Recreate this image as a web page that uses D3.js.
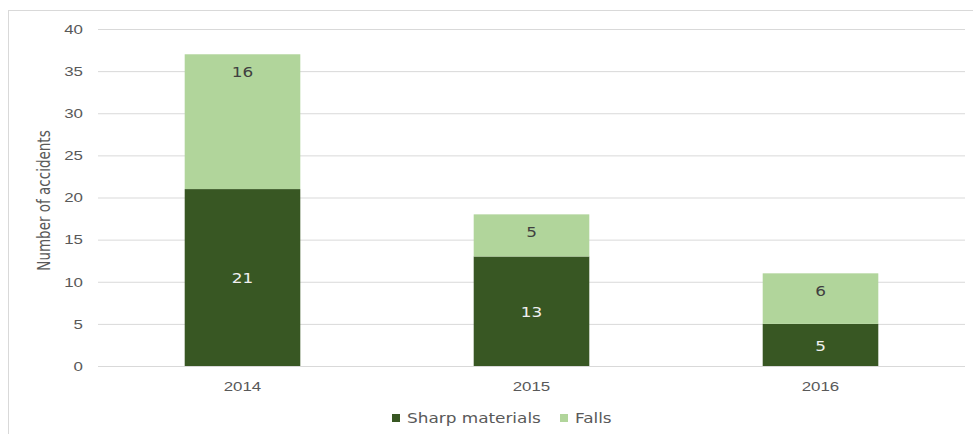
<!DOCTYPE html>
<html><head><meta charset="utf-8">
<script src="https://cdn.jsdelivr.net/npm/d3@7"></script>
<style>body{margin:0;background:#fff}svg{display:block;font-family:"DejaVu Sans",Verdana,sans-serif}</style>
</head><body><svg id="c" width="973" height="434"></svg>
<script>
const years = ["2014", "2015", "2016"];
const sharpMaterials = [21, 13, 5];
const falls = [16, 5, 6];
const seriesNames = ["Sharp materials", "Falls"];
const seriesColors = ["#385723", "#B1D59B"];
const yTicks = [0, 5, 10, 15, 20, 25, 30, 35, 40];

const SX = 1.25, FS = "13.5px", TXT = "#595959";
const svg = d3.select("#c");
svg.append("rect").attr("x", 8.5).attr("y", 10.5).attr("width", 980).attr("height", 440)
  .attr("fill", "none").attr("stroke", "#d9d9d9");

const m = {l: 98, r: 965, t: 29, b: 366};
const x = d3.scaleBand().domain(years).range([m.l, m.r]).paddingInner(0.6).paddingOuter(0.3);
const y = d3.scaleLinear().domain([0, 40]).range([m.b, m.t]);

const yAxis = svg.append("g").attr("transform", `translate(${m.l},0)`)
  .call(d3.axisLeft(y).tickValues(yTicks).tickSize(-(m.r - m.l)));
yAxis.select(".domain").remove();
yAxis.selectAll(".tick line").attr("stroke", "#d9d9d9").attr("stroke-width", 1);
yAxis.selectAll(".tick text").attr("x", 0).attr("fill", TXT).style("font-size", FS)
  .attr("transform", `translate(-15,0) scale(${SX},1)`);

const xAxis = svg.append("g").attr("transform", `translate(0,${m.b})`)
  .call(d3.axisBottom(x).tickSize(0));
xAxis.select(".domain").remove();
xAxis.selectAll(".tick text").attr("y", 0).attr("dy", "0.35em").attr("fill", TXT).style("font-size", FS)
  .attr("transform", `translate(0,20) scale(${SX},1)`);

const data = years.map((yr, i) => ({year: yr, "Sharp materials": sharpMaterials[i], "Falls": falls[i]}));
const stack = d3.stack().keys(seriesNames)(data);

stack.forEach((s, si) => {
  const g = svg.append("g");
  g.selectAll("rect").data(s).join("rect")
    .attr("x", d => x(d.data.year))
    .attr("width", x.bandwidth())
    .attr("y", d => y(d[1]))
    .attr("height", d => y(d[0]) - y(d[1]))
    .attr("fill", seriesColors[si]);
  g.selectAll("text").data(s).join("text")
    .attr("transform", d => {
      const cx = x(d.data.year) + x.bandwidth() / 2;
      const cy = si === 0 ? (y(d[0]) + y(d[1])) / 2 + 1 : y(d[1]) + 18;
      return `translate(${cx},${cy}) scale(${SX},1)`;
    })
    .attr("dy", "0.35em")
    .attr("text-anchor", "middle")
    .attr("fill", si === 0 ? "#f0f0f0" : "#404040")
    .style("font-size", FS)
    .text(d => d[1] - d[0]);
});

svg.append("text").attr("transform", `translate(50,${(m.t + m.b) / 2 + 3}) rotate(-90) scale(1,${SX})`)
  .attr("text-anchor", "middle").attr("fill", TXT).style("font-size", "13.5px")
  .text("Number of accidents");

const legend = svg.append("g").attr("transform", "translate(392,418)");
const lx = [0, 168];
seriesNames.forEach((n, i) => {
  legend.append("rect").attr("x", lx[i]).attr("y", -4).attr("width", 8).attr("height", 8).attr("fill", seriesColors[i]);
  legend.append("text").attr("transform", `translate(${lx[i] + 15},0) scale(${SX},1)`).attr("dy", "0.35em")
    .attr("fill", TXT).style("font-size", FS).text(n);
});
</script></body></html>
